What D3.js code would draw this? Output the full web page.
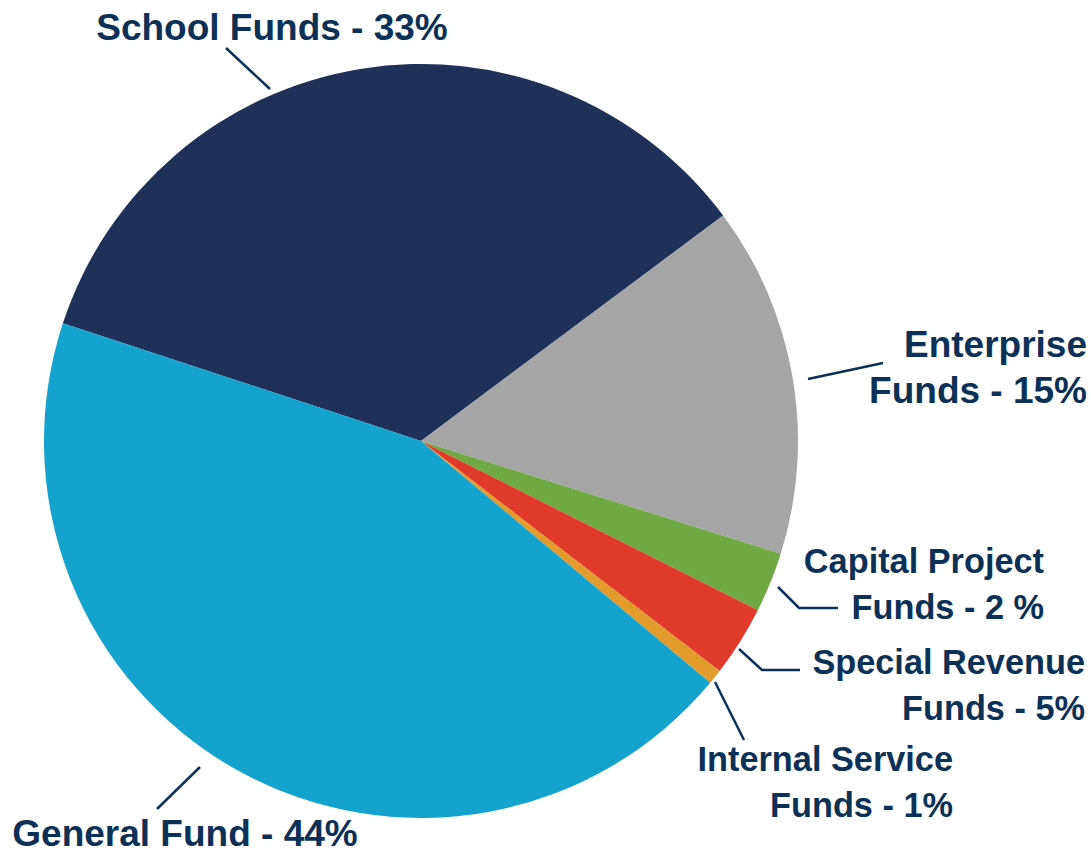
<!DOCTYPE html>
<html>
<head>
<meta charset="utf-8">
<script src="https://cdn.jsdelivr.net/npm/d3@7/dist/d3.min.js"></script>
<style>
  html, body { margin: 0; padding: 0; background: #ffffff; }
  svg { display: block; }
  text { font-family: "Liberation Sans", Arial, sans-serif; font-weight: bold; fill: #0b3157; }
</style>
</head>
<body>
<svg id="chart" width="1091" height="855"></svg>
<script>
// ---- data ----
const categories = ["School Funds", "Enterprise Funds", "Capital Project Funds", "Special Revenue Funds", "Internal Service Funds", "General Fund"];
const values = [34.74, 15.04, 2.58, 3.03, 0.64, 43.97];
const colors = ["#1f3059", "#a5a5a5", "#70a843", "#e03a2a", "#e39b2c", "#14a3cd"];
const labelLines = [
  ["School Funds - 33%"],
  ["Enterprise", "Funds - 15%"],
  ["Capital Project", "Funds - 2 %"],
  ["Special Revenue", "Funds - 5%"],
  ["Internal Service", "Funds - 1%"],
  ["General Fund - 44%"]
];

// ---- layout (annotation placement) ----
const W = 1091, H = 855;
const cx = 421, cy = 441, R = 377;
const startDeg = -71.8;
const labelLayout = [
  { x: 272, y: 40, size: 37, anchor: "middle", line: [[270, 89], [226, 48]] },
  { x: 1087, y: 357, size: 37, anchor: "end", line: [[808, 379], [883, 363]] },
  { x: 1044, y: 573, size: 34.3, anchor: "end", line: [[778, 587], [799, 608], [838, 608]] },
  { x: 1085, y: 674, size: 34.3, anchor: "end", line: [[739, 649], [762, 670], [800, 670]] },
  { x: 953, y: 771, size: 34.3, anchor: "end", line: [[715, 682], [744, 740]] },
  { x: 185, y: 846, size: 37, anchor: "middle", line: [[200, 767], [157, 809]] }
];
const lineGap = 46;

const svg = d3.select("#chart");
const data = categories.map((c, i) => ({ name: c, value: values[i], color: colors[i], i }));

const a0 = startDeg * Math.PI / 180;
const pie = d3.pie().value(d => d.value).sort(null).startAngle(a0).endAngle(a0 + 2 * Math.PI);
const arc = d3.arc().innerRadius(0).outerRadius(R);

const g = svg.append("g").attr("transform", `translate(${cx},${cy})`);
g.selectAll("path.slice")
  .data(pie(data))
  .join("path")
  .attr("class", "slice")
  .attr("d", arc)
  .attr("fill", d => d.data.color);

const lineGen = d3.line();
svg.selectAll("path.leader")
  .data(labelLayout)
  .join("path")
  .attr("class", "leader")
  .attr("d", d => lineGen(d.line))
  .attr("fill", "none")
  .attr("stroke", "#0b3157")
  .attr("stroke-width", 2.5);

const labels = svg.selectAll("text.lbl")
  .data(labelLayout)
  .join("text")
  .attr("class", "lbl")
  .attr("text-anchor", d => d.anchor)
  .attr("font-size", d => d.size);

labels.each(function(d, i) {
  const t = d3.select(this);
  labelLines[i].forEach((s, k) => {
    t.append("tspan").attr("x", d.x).attr("y", d.y + k * lineGap).text(s);
  });
});
</script>
</body>
</html>
